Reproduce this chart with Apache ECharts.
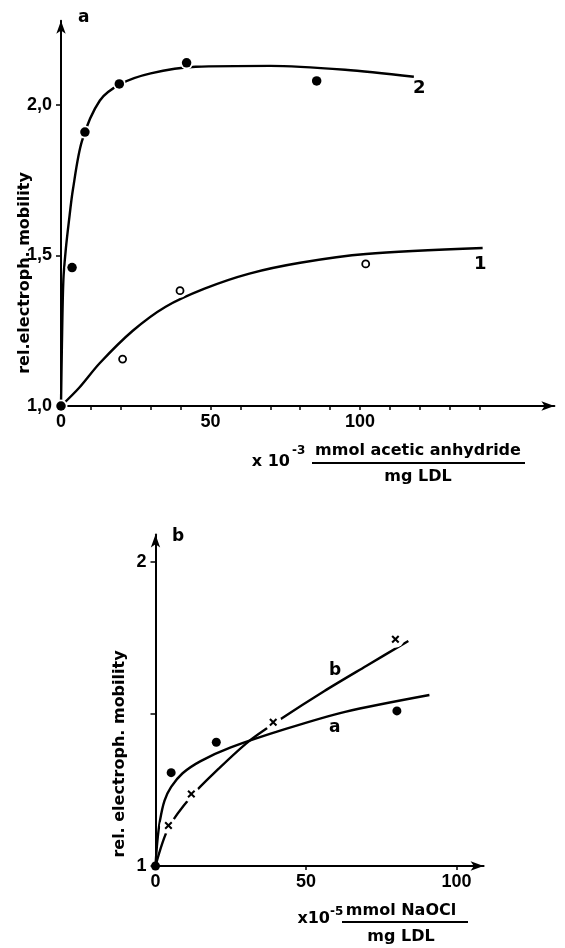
<!DOCTYPE html>
<html><head><meta charset="utf-8">
<script src="https://cdn.jsdelivr.net/npm/echarts@6/dist/echarts.min.js"></script>
<style>html,body{margin:0;padding:0;background:#fff}#c{width:565px;height:948px}</style>
</head><body><div id="c"></div>
<script>
// ---------- Panel a ----------
const aTicksX = [0,10,20,30,40,50,60,70,80,90,100,110,120,130,140];
const aLabelsX = [0,50,100];
const aTicksY = [1.0,1.5,2.0];
const aDots2 = [[0,1.0],[3.7,1.46],[8.0,1.91],[19.5,2.07],[42,2.14],[85.5,2.08]];
const aCircles1 = [[20.6,1.156],[39.8,1.383],[101.9,1.472]];
const aCurve2 = [[0,1.0],[0.3,1.2],[0.8,1.42],[1.6,1.52],[2.6,1.61],[4,1.72],[7,1.88],[13,2.015],[20,2.07],[30,2.105],[45,2.127],[70,2.13],[95,2.117],[118,2.094]];
const aCurve1 = [[0,1.0],[6,1.06],[13,1.143],[24,1.25],[35,1.33],[48,1.39],[63,1.44],[80,1.476],[102,1.505],[141,1.525]];
// ---------- Panel b ----------
const bTicksX = [0,50,100];
const bTicksY = [1,1.5,2];
const bLabelsY = [1,2];
const bDotsA = [[0,1],[5.2,1.307],[20.2,1.407],[80.2,1.51]];
const bCrossesB = [[4.3,1.133],[11.9,1.237],[39.1,1.473],[79.7,1.746]];
const bCurveA = [[0,1],[0.6,1.08],[1.5,1.15],[3,1.215],[5.2,1.26],[9,1.305],[15,1.345],[25,1.39],[43,1.45],[63,1.507],[91,1.5625]];
const bCurveB = [[0,1],[4.3,1.125],[12,1.23],[21,1.32],[31,1.41],[42,1.486],[56,1.575],[70,1.658],[84,1.74]];

const LAB = "'Liberation Sans',sans-serif";
const TXT = "'DejaVu Sans',sans-serif";
const K = '#000';
const CROSS = 'path://M1.8,0L5,3.2L8.2,0L10,1.8L6.8,5L10,8.2L8.2,10L5,6.8L1.8,10L0,8.2L3.2,5L0,1.8Z';

function xAx(grid, max, ticks, labels) {
  return {
    type: 'value', gridIndex: grid, min: 0, max: max,
    splitLine: {show: false},
    axisLine: {show: true, lineStyle: {color: K, width: 2}, symbol: ['none','arrow'], symbolSize: [7,13]},
    axisTick: {show: true, length: 4, lineStyle: {color: K, width: 1.5}, customValues: ticks},
    axisLabel: {customValues: labels, color: K, fontFamily: LAB, fontWeight: 'bold', fontSize: 18, margin: 7}
  };
}
function yAx(grid, min, max, ticks, labels, fmt) {
  return {
    type: 'value', gridIndex: grid, min: min, max: max,
    splitLine: {show: false},
    axisLine: {show: true, onZero: false, lineStyle: {color: K, width: 2}, symbol: ['none','arrow'], symbolSize: [7,13]},
    axisTick: {show: true, length: 5, lineStyle: {color: K, width: 1.5}, customValues: ticks},
    axisLabel: {customValues: labels, color: K, fontFamily: LAB, fontWeight: 'bold', fontSize: 18, margin: 9, formatter: fmt}
  };
}
function curve(x, y, data) {
  return {type: 'line', xAxisIndex: x, yAxisIndex: y, data: data, showSymbol: false, smooth: 0.3,
    lineStyle: {color: K, width: 2.4}, silent: true, z: 2};
}
function halo(x, y, data, size) {
  return {type: 'scatter', xAxisIndex: x, yAxisIndex: y, data: data, symbol: 'circle', symbolSize: size,
    itemStyle: {color: '#fff', opacity: 1}, silent: true, z: 3};
}

const chart = echarts.init(document.getElementById('c'), null, {renderer: 'canvas'});
chart.setOption({
  backgroundColor: '#fff',
  animation: false,
  grid: [
    {left: 61, top: 20.7, width: 493.4, height: 385.3},
    {left: 155.5, top: 534.6, width: 328.1, height: 331.4}
  ],
  xAxis: [xAx(0, 165, aTicksX, aLabelsX), xAx(1, 109, bTicksX, bTicksX)],
  yAxis: [
    yAx(0, 1.0, 2.28, aTicksY, aTicksY, v => v.toFixed(1).replace('.', ',')),
    yAx(1, 1, 2.09, bTicksY, bLabelsY, v => String(Math.round(v)))
  ],
  series: [
    curve(0, 0, aCurve1),
    curve(0, 0, aCurve2),
    halo(0, 0, aCircles1, 14),
    halo(0, 0, aDots2, 13),
    {type: 'scatter', xAxisIndex: 0, yAxisIndex: 0, data: aCircles1, symbol: 'circle', symbolSize: 7,
      itemStyle: {color: '#fff', borderColor: K, borderWidth: 1.8, opacity: 1}, z: 4},
    {type: 'scatter', xAxisIndex: 0, yAxisIndex: 0, data: aDots2, symbol: 'circle', symbolSize: 9.5,
      itemStyle: {color: K, opacity: 1}, z: 4},
    curve(1, 1, bCurveA),
    curve(1, 1, bCurveB),
    halo(1, 1, bCrossesB, 17),
    {type: 'scatter', xAxisIndex: 1, yAxisIndex: 1, data: bCrossesB, symbol: CROSS, symbolSize: 8,
      itemStyle: {color: K, opacity: 1}, z: 4},
    {type: 'scatter', xAxisIndex: 1, yAxisIndex: 1, data: bDotsA, symbol: 'circle', symbolSize: 9,
      itemStyle: {color: K, opacity: 1}, z: 4}
  ],
  graphic: [
    {type: 'text', left: 78, top: 9, style: {text: 'a', font: "bold 17px " + TXT, fill: K}},
    {type: 'text', left: 172, top: 528, style: {text: 'b', font: "bold 17px " + TXT, fill: K}},
    {type: 'text', left: 413, top: 79, style: {text: '2', font: "bold 18px " + TXT, fill: K}},
    {type: 'text', left: 474, top: 255, style: {text: '1', font: "bold 18px " + TXT, fill: K}},
    {type: 'text', left: 329, top: 662, style: {text: 'b', font: "bold 17px " + TXT, fill: K}},
    {type: 'text', left: 329, top: 719, style: {text: 'a', font: "bold 17px " + TXT, fill: K}},
    {type: 'text', x: 25, y: 273, rotation: Math.PI / 2,
      style: {text: 'rel.electroph. mobility', font: "bold 16px " + TXT, fill: K, align: 'center', verticalAlign: 'middle'}},
    {type: 'text', x: 120, y: 754, rotation: Math.PI / 2,
      style: {text: 'rel. electroph. mobility', font: "bold 16px " + TXT, fill: K, align: 'center', verticalAlign: 'middle'}},
    {type: 'text', x: 290, y: 462, style: {text: 'x 10', font: "bold 16px " + TXT, fill: K, align: 'right', verticalAlign: 'middle'}},
    {type: 'text', x: 292, y: 451, style: {text: '-3', font: "bold 12px " + TXT, fill: K, align: 'left', verticalAlign: 'middle'}},
    {type: 'text', x: 418, y: 451, style: {text: 'mmol acetic anhydride', font: "bold 16px " + TXT, fill: K, align: 'center', verticalAlign: 'middle'}},
    {type: 'line', shape: {x1: 312, y1: 463, x2: 525, y2: 463}, style: {stroke: K, lineWidth: 2}},
    {type: 'text', x: 418, y: 477, style: {text: 'mg LDL', font: "bold 16px " + TXT, fill: K, align: 'center', verticalAlign: 'middle'}},
    {type: 'text', x: 330, y: 919, style: {text: 'x10', font: "bold 16px " + TXT, fill: K, align: 'right', verticalAlign: 'middle'}},
    {type: 'text', x: 330, y: 912, style: {text: '-5', font: "bold 12px " + TXT, fill: K, align: 'left', verticalAlign: 'middle'}},
    {type: 'text', x: 401, y: 911, style: {text: 'mmol NaOCl', font: "bold 16px " + TXT, fill: K, align: 'center', verticalAlign: 'middle'}},
    {type: 'line', shape: {x1: 342, y1: 922, x2: 468, y2: 922}, style: {stroke: K, lineWidth: 2}},
    {type: 'text', x: 401, y: 937, style: {text: 'mg LDL', font: "bold 16px " + TXT, fill: K, align: 'center', verticalAlign: 'middle'}}
  ]
});
</script></body></html>
